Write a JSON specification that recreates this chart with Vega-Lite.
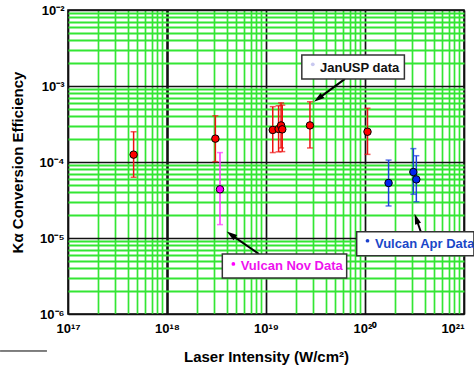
{
  "$schema": "https://vega.github.io/schema/vega-lite/v6.json",
  "width": 396,
  "height": 304,
  "autosize": {"type": "none"},
  "padding": {"left": 68, "top": 10, "right": 10, "bottom": 58},
  "background": "white",
  "config": {"view": {"stroke": "#000000", "strokeWidth": 1.5}, "font": "Liberation Sans"},
  "datasets": {
    "pts": [
      {"series": "JanUSP", "x": 4.6e17, "y": 1.25e-4, "lo": 6.3e-5, "hi": 2.5e-4},
      {"series": "JanUSP", "x": 3.08e18, "y": 2.03e-4, "lo": 1.01e-4, "hi": 4.06e-4},
      {"series": "JanUSP", "x": 1.17e19, "y": 2.64e-4, "lo": 1.33e-4, "hi": 5.35e-4},
      {"series": "JanUSP", "x": 1.34e19, "y": 2.72e-4, "lo": 1.36e-4, "hi": 5.5e-4},
      {"series": "JanUSP", "x": 1.42e19, "y": 3.03e-4, "lo": 1.53e-4, "hi": 6.0e-4},
      {"series": "JanUSP", "x": 1.46e19, "y": 2.69e-4, "lo": 1.37e-4, "hi": 5.6e-4},
      {"series": "JanUSP", "x": 2.78e19, "y": 3.03e-4, "lo": 1.53e-4, "hi": 6.2e-4},
      {"series": "JanUSP", "x": 1.06e20, "y": 2.5e-4, "lo": 1.26e-4, "hi": 5.1e-4},
      {"series": "Vulcan Nov", "x": 3.43e18, "y": 4.37e-5, "lo": 1.5e-5, "hi": 1.33e-4},
      {"series": "Vulcan Apr", "x": 1.73e20, "y": 5.3e-5, "lo": 2.64e-5, "hi": 1.06e-4},
      {"series": "Vulcan Apr", "x": 3.08e20, "y": 7.38e-5, "lo": 3.76e-5, "hi": 1.5e-4},
      {"series": "Vulcan Apr", "x": 3.3e20, "y": 5.9e-5, "lo": 3.0e-5, "hi": 1.21e-4}
    ],
    "notes": [
      {"series": "JanUSP", "label": "JanUSP data", "bx1": 2.3e19, "bx2": 2.5e20, "by1": 2.56e-3, "by2": 1.24e-3, "dotx": 2.97e19, "doty": 1.93e-3, "tx": 3.51e19, "ty": 1.75e-3, "ax1": 6.28e19, "ay1": 1.24e-3, "ax2": 3.37e19, "ay2": 6.82e-4},
      {"series": "Vulcan Nov", "label": "Vulcan Nov Data", "bx1": 3.62e18, "bx2": 6.53e19, "by1": 6.15e-6, "by2": 2.98e-6, "dotx": 4.68e18, "doty": 4.55e-6, "tx": 5.55e18, "ty": 4.22e-6, "ax1": 8.49e18, "ay1": 6.15e-6, "ax2": 4.43e18, "ay2": 1.11e-5},
      {"series": "Vulcan Apr", "label": "Vulcan Apr Data", "bx1": 8.24e19, "bx2": 1.26e21, "by1": 1.21e-5, "by2": 5.85e-6, "dotx": 1.06e20, "doty": 9.2e-6, "tx": 1.26e20, "ty": 8.34e-6, "ax1": 3.66e20, "ay1": 1.21e-5, "ax2": 3.3e20, "ay2": 1.79e-5}
    ],
    "stray": [{"x": 2.06e16, "x2": 6.13e16, "y": 3.26e-7}]
  },
  "encoding": {
    "x": {
      "type": "quantitative",
      "scale": {"type": "log", "domain": [1e17, 1e21], "nice": false},
      "title": "Laser Intensity (W/cm²)",
      "axis": {
        "values": [2e17, 3e17, 4e17, 5e17, 6e17, 7e17, 8e17, 9e17, 2e18, 3e18, 4e18, 5e18, 6e18, 7e18, 8e18, 9e18, 2e19, 3e19, 4e19, 5e19, 6e19, 7e19, 8e19, 9e19, 2e20, 3e20, 4e20, 5e20, 6e20, 7e20, 8e20, 9e20, 1e17, 1e18, 1e19, 1e20, 1e21],
        "labelExpr": "datum.value == 1e17 ? '10¹⁷' : datum.value == 1e18 ? '10¹⁸' : datum.value == 1e19 ? '10¹⁹' : datum.value == 1e20 ? '10²⁰' : datum.value == 1e21 ? '10²¹' : ''",
        "ticks": false, "domain": false,
        "labelFont": "Liberation Sans", "labelFontWeight": "bold", "labelFontSize": 13, "labelColor": "#000000",
        "labelPadding": 8, "labelFlush": false, "labelOverlap": false,
        "labelAlign": {"condition": {"test": "datum.value == 1e21", "value": "right"}, "value": "center"},
        "grid": true,
        "gridColor": {"condition": {"test": "abs(log(datum.value)/LN10 - round(log(datum.value)/LN10)) < 1e-6", "value": "#111111"}, "value": "#33e633"},
        "gridWidth": {"condition": {"test": "datum.value == 1e18", "value": 2.6}, "value": 1.7},
        "gridOpacity": 1,
        "titleFont": "Liberation Sans", "titleFontWeight": "bold", "titleFontSize": 15, "titleColor": "#000000", "titlePadding": 14
      }
    },
    "y": {
      "type": "quantitative",
      "scale": {"type": "log", "domain": [1e-6, 1e-2], "nice": false},
      "title": "Kα Conversion Efficiency",
      "axis": {
        "values": [2e-6, 3e-6, 4e-6, 5e-6, 6e-6, 7e-6, 8e-6, 9e-6, 2e-5, 3e-5, 4e-5, 5e-5, 6e-5, 7e-5, 8e-5, 9e-5, 2e-4, 3e-4, 4e-4, 5e-4, 6e-4, 7e-4, 8e-4, 9e-4, 2e-3, 3e-3, 4e-3, 5e-3, 6e-3, 7e-3, 8e-3, 9e-3, 1e-6, 1e-5, 1e-4, 1e-3, 1e-2],
        "labelExpr": "datum.value == 1e-2 ? '10⁻²' : datum.value == 1e-3 ? '10⁻³' : datum.value == 1e-4 ? '10⁻⁴' : datum.value == 1e-5 ? '10⁻⁵' : datum.value == 1e-6 ? '10⁻⁶' : ''",
        "ticks": false, "domain": false,
        "labelFont": "Liberation Sans", "labelFontWeight": "bold", "labelFontSize": 13, "labelColor": "#000000",
        "labelPadding": 4, "labelFlush": false, "labelOverlap": false,
        "grid": true,
        "gridColor": {"condition": {"test": "abs(log(datum.value)/LN10 - round(log(datum.value)/LN10)) < 1e-6", "value": "#111111"}, "value": "#33e633"},
        "gridWidth": {"condition": {"test": "abs(log(datum.value)/LN10 - round(log(datum.value)/LN10)) < 1e-6", "value": 1.4}, "value": 1.8},
        "gridOpacity": 1,
        "titleFont": "Liberation Sans", "titleFontWeight": "bold", "titleFontSize": 15, "titleColor": "#000000", "titlePadding": 14
      }
    }
  },
  "layer": [
    {
      "data": {"name": "pts"},
      "mark": {"type": "rule", "strokeWidth": 1.5},
      "encoding": {
        "x": {"field": "x"},
        "y": {"field": "lo"},
        "y2": {"field": "hi"},
        "color": {"field": "series", "type": "nominal", "scale": {"domain": ["JanUSP", "Vulcan Nov", "Vulcan Apr"], "range": ["#ee1111", "#ff33ff", "#1a3fe0"]}, "legend": null}
      }
    },
    {
      "data": {"name": "pts"},
      "mark": {"type": "tick", "orient": "horizontal", "size": 6, "thickness": 1.5},
      "encoding": {
        "x": {"field": "x"},
        "y": {"field": "lo"},
        "color": {"field": "series", "type": "nominal", "legend": null}
      }
    },
    {
      "data": {"name": "pts"},
      "mark": {"type": "tick", "orient": "horizontal", "size": 6, "thickness": 1.5},
      "encoding": {
        "x": {"field": "x"},
        "y": {"field": "hi"},
        "color": {"field": "series", "type": "nominal", "legend": null}
      }
    },
    {
      "data": {"name": "pts"},
      "mark": {"type": "point", "shape": "circle", "filled": true, "size": 56, "stroke": "#000000", "strokeWidth": 1, "opacity": 1},
      "encoding": {
        "x": {"field": "x"},
        "y": {"field": "y"},
        "fill": {"field": "series", "type": "nominal", "scale": {"domain": ["JanUSP", "Vulcan Nov", "Vulcan Apr"], "range": ["#ff0000", "#ff00ff", "#0022ee"]}, "legend": null}
      }
    },
    {
      "data": {"name": "notes"},
      "mark": {"type": "rule", "color": "#000000", "strokeWidth": 2},
      "encoding": {
        "x": {"field": "ax1"},
        "y": {"field": "ay1"},
        "x2": {"field": "ax2"},
        "y2": {"field": "ay2"}
      }
    },
    {
      "data": {"name": "notes"},
      "transform": [
        {"calculate": "(atan2(99 * (log(datum.ax2) - log(datum.ax1)) / LN10, 76 * (log(datum.ay2) - log(datum.ay1)) / LN10) * 180 / PI + 360) % 360", "as": "angle"}
      ],
      "mark": {"type": "point", "shape": "M0,-1L-0.6,1L0.6,1Z", "filled": true, "color": "#000000", "size": 110, "opacity": 1},
      "encoding": {
        "x": {"field": "ax2"},
        "y": {"field": "ay2"},
        "angle": {"field": "angle", "type": "quantitative", "scale": null}
      }
    },
    {
      "data": {"name": "notes"},
      "mark": {"type": "rect", "fill": "#ffffff", "stroke": "#333333", "strokeWidth": 1.5},
      "encoding": {
        "x": {"field": "bx1"},
        "x2": {"field": "bx2"},
        "y": {"field": "by1"},
        "y2": {"field": "by2"}
      }
    },
    {
      "data": {"name": "notes"},
      "mark": {"type": "point", "shape": "circle", "filled": true, "size": 14, "opacity": 1},
      "encoding": {
        "x": {"field": "dotx"},
        "y": {"field": "doty"},
        "fill": {"field": "series", "type": "nominal", "scale": {"domain": ["JanUSP", "Vulcan Nov", "Vulcan Apr"], "range": ["#c8c8f0", "#ff00ff", "#1a3fcc"]}, "legend": null}
      }
    },
    {
      "data": {"name": "notes"},
      "mark": {"type": "text", "align": "left", "baseline": "middle", "font": "Liberation Sans", "fontWeight": "bold", "fontSize": 13},
      "encoding": {
        "x": {"field": "tx"},
        "y": {"field": "ty"},
        "text": {"field": "label"},
        "fill": {"field": "series", "type": "nominal", "scale": {"domain": ["JanUSP", "Vulcan Nov", "Vulcan Apr"], "range": ["#111111", "#ee11ee", "#1a47c8"]}, "legend": null}
      }
    },
    {
      "data": {"name": "stray"},
      "mark": {"type": "rule", "color": "#000000", "strokeWidth": 1},
      "encoding": {
        "x": {"field": "x"},
        "x2": {"field": "x2"},
        "y": {"field": "y"}
      }
    }
  ],
  "resolve": {"scale": {"fill": "independent"}}
}
